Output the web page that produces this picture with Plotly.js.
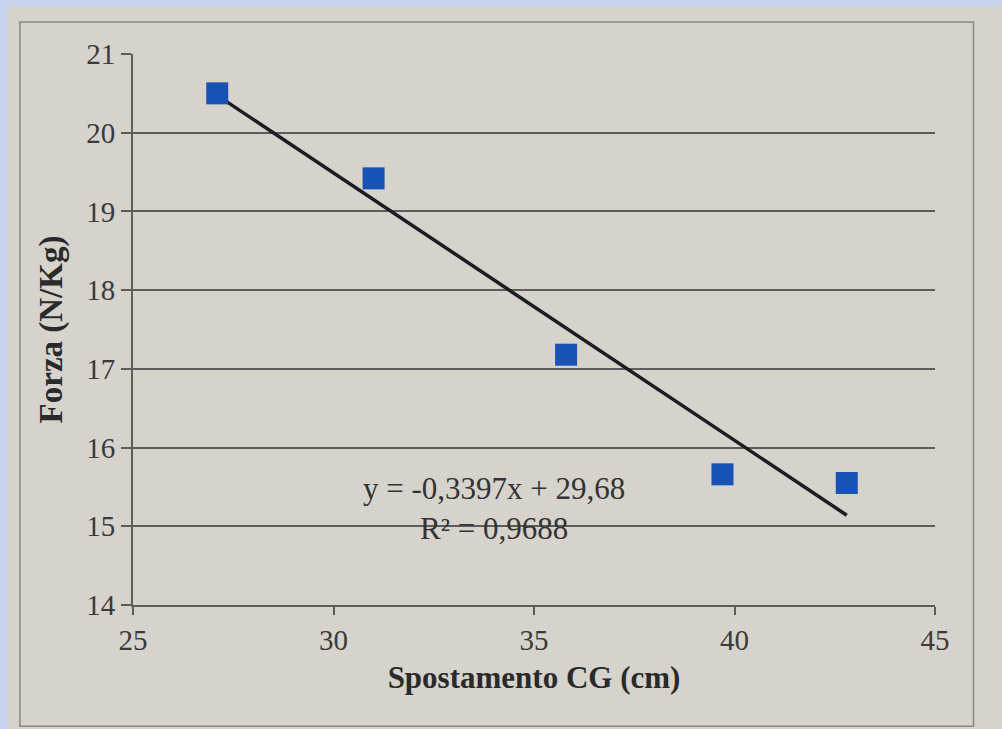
<!DOCTYPE html>
<html>
<head>
<meta charset="utf-8">
<script src="https://cdn.plot.ly/plotly-3.0.1.min.js"></script>
<style>
  html, body { margin: 0; padding: 0; width: 1002px; height: 729px; overflow: hidden; background: #c9d3ee; }
  #chart { position: absolute; left: 8px; top: 7px; width: 994px; height: 722px; }
</style>
</head>
<body>
<div id="chart"></div>
<script>
// Measured points: CG displacement (cm) vs force (N/Kg)
const spostamento = [27.1, 31.0, 35.8, 39.7, 42.8];
const forza = [20.5, 19.42, 17.18, 15.66, 15.55];

// Linear trendline as reported on the chart
const slope = -0.3397;
const intercept = 29.68;
const r2 = 0.9688;

const xTicks = [25, 30, 35, 40, 45];
const yTicks = [14, 15, 16, 17, 18, 19, 20, 21];

const fmt = (v, d) => v.toFixed(d).replace('.', ',');

const xMin = Math.min(...spostamento);
const xMax = Math.max(...spostamento);
const trendX = [xMin, xMax];
const trendY = trendX.map(x => slope * x + intercept);

const serif = 'Liberation Serif, Times New Roman, serif';

const traces = [
  {
    x: trendX, y: trendY, mode: 'lines', type: 'scatter',
    line: { color: '#1c1c22', width: 3.5 }, hoverinfo: 'skip'
  },
  {
    x: spostamento, y: forza, mode: 'markers', type: 'scatter',
    marker: { symbol: 'square', size: 22, color: '#1752b4' }
  }
];

const layout = {
  width: 994, height: 722,
  showlegend: false,
  paper_bgcolor: '#d6d2cc',
  plot_bgcolor: 'rgba(0,0,0,0)',
  margin: { l: 125, r: 67, t: 47, b: 124 },
  font: { family: serif, color: '#3a3a3a' },
  xaxis: {
    range: [25, 45], tickvals: xTicks, ticktext: xTicks.map(String),
    showgrid: false, zeroline: false,
    showline: true, linecolor: '#5c5c5c', linewidth: 2,
    ticks: 'outside', ticklen: 8, tickwidth: 2, tickcolor: '#5c5c5c',
    tickfont: { size: 29, family: serif, color: '#3a3a3a' },
    automargin: false,
    title: { text: '<b>Spostamento CG (cm)</b>', font: { size: 31, family: serif, color: '#2a2a2a' }, standoff: 12 }
  },
  yaxis: {
    range: [14, 21], tickvals: yTicks, ticktext: yTicks.map(String),
    showgrid: true, gridcolor: '#5c5c5c', gridwidth: 2,
    zeroline: false,
    showline: true, linecolor: '#5c5c5c', linewidth: 2,
    ticks: 'outside', ticklen: 10, tickwidth: 2, tickcolor: '#5c5c5c',
    tickfont: { size: 29, family: serif, color: '#3a3a3a' },
    automargin: false,
    title: { text: '<b>Forza (N/Kg)</b>', font: { size: 33, family: serif, color: '#2a2a2a' }, standoff: 14 }
  },
  annotations: [
    {
      x: 34.0, y: 15.22, xref: 'x', yref: 'y', showarrow: false,
      text: 'y = ' + fmt(slope, 4) + 'x + ' + fmt(intercept, 2) + '<br>R² = ' + fmt(r2, 4),
      align: 'center', font: { size: 31, family: serif, color: '#333333' }
    }
  ],
  shapes: [
    {
      type: 'rect', xref: 'paper', yref: 'paper',
      x0: -0.141, x1: 1.048, y0: -0.22, y1: 1.058,
      line: { color: '#8a8783', width: 1.5 }, fillcolor: 'rgba(0,0,0,0)', layer: 'below'
    }
  ]
};

Plotly.newPlot('chart', traces, layout, { staticPlot: true, displayModeBar: false });
</script>
</body>
</html>
